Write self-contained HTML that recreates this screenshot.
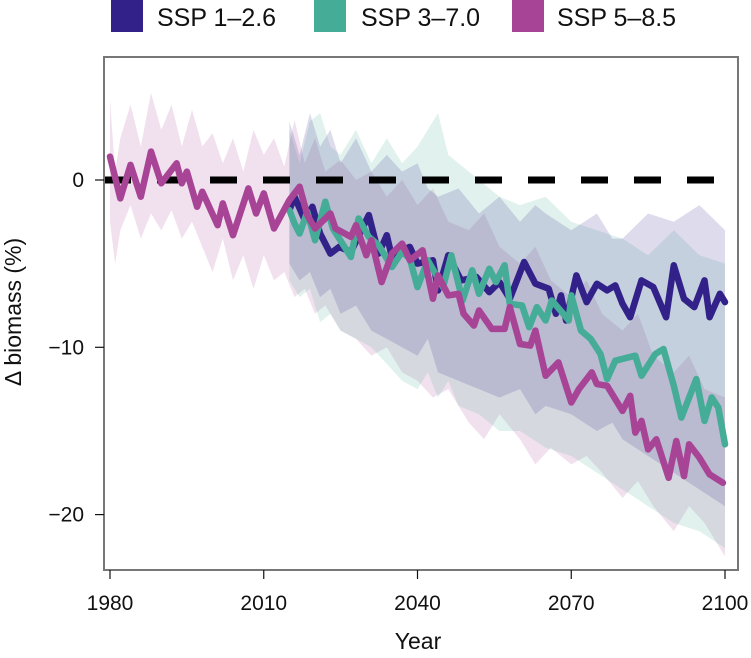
<!DOCTYPE html>
<html><head><meta charset="utf-8"><style>
body{margin:0;background:#fff;width:751px;height:653px;overflow:hidden;font-family:"Liberation Sans",sans-serif}
svg text{font-family:"Liberation Sans",sans-serif;fill:#111}
</style></head><body>
<svg id="chart" width="751" height="653" viewBox="0 0 751 653" xmlns="http://www.w3.org/2000/svg">
<g>
<rect x="111" y="0" width="32" height="32" fill="#33218a"/>
<text x="157" y="26" font-size="25">SSP 1–2.6</text>
<rect x="314" y="0" width="32" height="32" fill="#45ac97"/>
<text x="361" y="26" font-size="25">SSP 3–7.0</text>
<rect x="512" y="0" width="32" height="32" fill="#a84496"/>
<text x="557" y="26" font-size="25">SSP 5–8.5</text>
</g>
<g id="bands"></g>
<line x1="104" y1="180" x2="738" y2="180" stroke="#000" stroke-width="7" stroke-dasharray="27,26"/>
<g id="lines"></g>
<rect x="104" y="57" width="634" height="513" fill="none" stroke="#777" stroke-width="2"/>
<g id="axes"></g>
<text x="418" y="649" font-size="23" text-anchor="middle">Year</text>
<text transform="translate(21,312) rotate(-90)" font-size="23" text-anchor="middle">Δ biomass (%)</text>
</svg>
<script>
const xTicks=[1980,2010,2040,2070,2100];
const yTicks=[0,-10,-20];
const yTickLabels=["0","−10","−20"];
const ssp585Years=[1980,1982,1984,1986,1988,1990,1993,1994,1995,1997,1998,2001,2002,2004,2007,2008.5,2010,2012,2015,2017,2018.5,2020,2023,2024,2027,2028,2030,2031,2033,2035,2037,2038.5,2041,2043,2044,2046,2048,2049,2051,2052,2054.5,2057,2058,2060,2062,2063,2065,2067.5,2070,2071.5,2074,2075,2077,2080,2081.5,2082.5,2083.7,2085,2086.6,2089,2090.5,2092,2093,2095,2097,2099.6];
const ssp585Values=[1.4,-1.1,0.9,-1.0,1.7,-0.2,1.0,-0.2,0.5,-1.6,-0.7,-2.7,-1.4,-3.3,-0.5,-2.0,-0.8,-2.9,-1.2,-0.4,-2.1,-2.9,-2.0,-2.9,-3.4,-2.7,-4.5,-3.6,-6.1,-4.4,-3.8,-4.8,-4.2,-7.1,-5.7,-6.9,-6.8,-8.0,-8.7,-7.8,-8.9,-8.9,-7.6,-9.8,-9.9,-9.0,-11.7,-10.9,-13.3,-12.5,-11.5,-12.2,-12.3,-13.8,-12.9,-15.1,-14.4,-16.1,-15.5,-17.8,-15.6,-17.7,-15.8,-16.6,-17.6,-18.1];
const ssp126Years=[2015,2016,2018,2019.5,2021,2023,2024.7,2027,2030.5,2032.4,2034,2035,2037,2038.5,2040,2043,2044,2046,2048.5,2051.5,2054,2056,2058,2060.8,2063,2065.6,2067,2068,2069,2071,2073,2075,2077,2078.6,2080,2081.5,2083.7,2086,2088.5,2090,2092,2094,2096,2097,2099,2100];
const ssp126Values=[-1.8,-1.0,-2.4,-1.6,-3.2,-4.4,-4.0,-4.3,-2.1,-4.4,-3.3,-4.6,-4.2,-4.0,-5.0,-4.8,-6.6,-4.5,-6.0,-5.8,-6.7,-6.1,-7.1,-4.9,-6.2,-6.5,-8.0,-6.9,-8.4,-5.7,-7.3,-6.2,-6.6,-6.3,-7.4,-8.2,-6.0,-6.4,-8.2,-5.1,-7.1,-7.6,-6.0,-8.2,-6.8,-7.3];
const ssp370Years=[2015,2016,2017,2018.5,2020,2022,2023.5,2027,2028.5,2030.5,2032.4,2035,2037,2038.5,2040,2042,2045,2046.6,2048.8,2050.7,2052,2054,2055.3,2057,2058,2060.4,2061.8,2063.3,2065,2066.2,2068.2,2069.5,2070,2071.9,2073.8,2075.7,2077,2078.6,2082.5,2083.7,2086.4,2088,2090,2091.5,2094.4,2096,2097.4,2098.7,2100];
const ssp370Values=[-1.8,-2.6,-3.2,-1.9,-3.6,-1.3,-2.9,-4.6,-2.3,-3.4,-3.9,-5.2,-4.3,-4.7,-6.4,-4.8,-6.4,-4.5,-7.2,-5.4,-6.8,-5.3,-6.1,-5.1,-7.4,-7.5,-8.8,-7.6,-8.4,-7.2,-7.9,-8.4,-6.9,-9.0,-9.5,-10.4,-11.9,-10.8,-10.5,-11.7,-10.4,-10.1,-12.3,-14.2,-11.9,-14.4,-13.0,-13.6,-15.8];
const ssp585BandYears=[1980,1981,1982,1984,1986,1988,1990,1992,1994,1996,1998,2000,2002,2004,2006,2008,2010,2012,2014,2016,2018,2020,2022,2025,2028,2031,2034,2037,2040,2043,2046,2050,2053,2056,2060,2063,2066,2070,2073,2076,2080,2083,2086,2090,2093,2096,2100];
const ssp585Upper=[4.8,0.5,2.5,4.5,2.0,5.2,3.0,4.5,2.0,4.2,2.0,2.8,1.0,2.5,0.5,3.0,1.5,2.5,0.8,3.6,1.0,2.5,0.5,1.2,0.0,0.5,-1.0,0.0,-1.5,-0.5,-2.5,-3.0,-2.0,-4.0,-5.0,-4.0,-6.0,-7.0,-6.0,-8.0,-9.0,-8.0,-10.5,-11.5,-10.5,-12.5,-13.0];
const ssp585Lower=[-2.5,-5.0,-3.0,-1.5,-3.5,-2.0,-3.0,-1.8,-3.5,-2.5,-4.0,-5.5,-3.5,-6.0,-4.5,-6.5,-4.5,-6.0,-5.5,-7.0,-6.5,-8.0,-7.5,-9.0,-9.5,-10.5,-10.0,-11.5,-12.0,-13.0,-12.5,-14.5,-15.5,-14.0,-15.5,-17.0,-16.0,-17.0,-16.5,-17.5,-19.0,-18.0,-19.5,-21.0,-19.5,-20.5,-22.5];
const ssp126BandYears=[2015,2017,2019,2021,2023,2025,2028,2031,2034,2037,2040,2042,2044,2048,2052,2056,2060,2063,2065,2070,2075,2078,2080,2085,2090,2095,2100];
const ssp126Upper=[3.5,1.5,4.0,2.0,3.0,1.0,2.5,0.5,1.5,0.5,1.0,-0.5,-1.0,-0.5,-2.0,-1.0,-2.5,-1.5,-2.0,-3.0,-2.0,-3.5,-3.5,-2.0,-2.5,-1.5,-3.0];
const ssp126Lower=[-5.0,-6.0,-5.5,-7.0,-6.5,-8.0,-7.5,-9.0,-9.5,-10.0,-10.5,-9.5,-11.5,-12.0,-12.5,-13.0,-12.5,-14.0,-13.5,-14.0,-15.0,-14.5,-15.5,-16.5,-17.5,-18.5,-19.5];
const ssp370BandYears=[2015,2017,2019,2021,2023,2025,2028,2031,2034,2037,2040,2042,2044,2046,2048,2052,2056,2060,2065,2070,2075,2080,2085,2090,2095,2100];
const ssp370Upper=[3.0,1.0,3.5,4.0,2.0,1.5,3.0,1.0,2.5,1.0,2.0,3.0,4.0,1.5,1.0,0.0,-1.0,-1.5,-1.0,-2.5,-3.0,-3.5,-4.5,-3.0,-4.5,-5.0];
const ssp370Lower=[-6.0,-7.0,-6.5,-8.5,-8.0,-9.0,-9.5,-10.0,-11.0,-12.0,-12.5,-11.5,-13.0,-12.0,-13.5,-14.0,-15.0,-15.0,-16.0,-16.5,-17.5,-18.5,-19.5,-20.5,-21.0,-22.0];

const NS="http://www.w3.org/2000/svg";
function xs(y){return 110+(y-1980)*(615/120);}
function ys(v){return 180-v*16.73;}
function mk(tag,attrs,parent){const e=document.createElementNS(NS,tag);for(const k in attrs)e.setAttribute(k,attrs[k]);parent.appendChild(e);return e;}
const bands=document.getElementById('bands'),lines=document.getElementById('lines'),axes=document.getElementById('axes');
function band(years,up,lo,color,name){
  let d="M"+years.map((y,i)=>xs(y).toFixed(1)+","+ys(up[i]).toFixed(1)).join("L");
  for(let i=years.length-1;i>=0;i--)d+="L"+xs(years[i]).toFixed(1)+","+ys(lo[i]).toFixed(1);
  const p=mk('path',{d:d+"Z",fill:color,'fill-opacity':0.16},bands);
  
  
}
function line(years,vals,color,name){
  const d="M"+years.map((y,i)=>xs(y).toFixed(1)+","+ys(vals[i]).toFixed(1)).join("L");
  const p=mk('path',{d:d,fill:'none',stroke:color,'stroke-width':6.5,'stroke-linejoin':'round','stroke-linecap':'round'},lines);
  
  
}
band(ssp585BandYears,ssp585Upper,ssp585Lower,'#a84496','band-ssp585');
band(ssp370BandYears,ssp370Upper,ssp370Lower,'#45ac97','band-ssp370');
band(ssp126BandYears,ssp126Upper,ssp126Lower,'#33218a','band-ssp126');
line(ssp126Years,ssp126Values,'#33218a','line-ssp126');
line(ssp370Years,ssp370Values,'#45ac97','line-ssp370');
line(ssp585Years,ssp585Values,'#a84496','line-ssp585');
xTicks.forEach(t=>{
  const l=mk('line',{x1:xs(t),x2:xs(t),y1:570,y2:579,stroke:'#111','stroke-width':1.2},axes);
  
  
  const tx=mk('text',{x:xs(t),y:610,'font-size':21,'text-anchor':'middle'},axes);
  tx.textContent=t;
  
  
});
yTicks.forEach((t,i)=>{
  const l=mk('line',{x1:95,x2:104,y1:ys(t),y2:ys(t),stroke:'#111','stroke-width':1.2},axes);
  
  
  const tx=mk('text',{x:84,y:ys(t)+7,'font-size':21,'text-anchor':'end'},axes);
  tx.textContent=yTickLabels[i];
  
  
});
</script>
</body></html>
